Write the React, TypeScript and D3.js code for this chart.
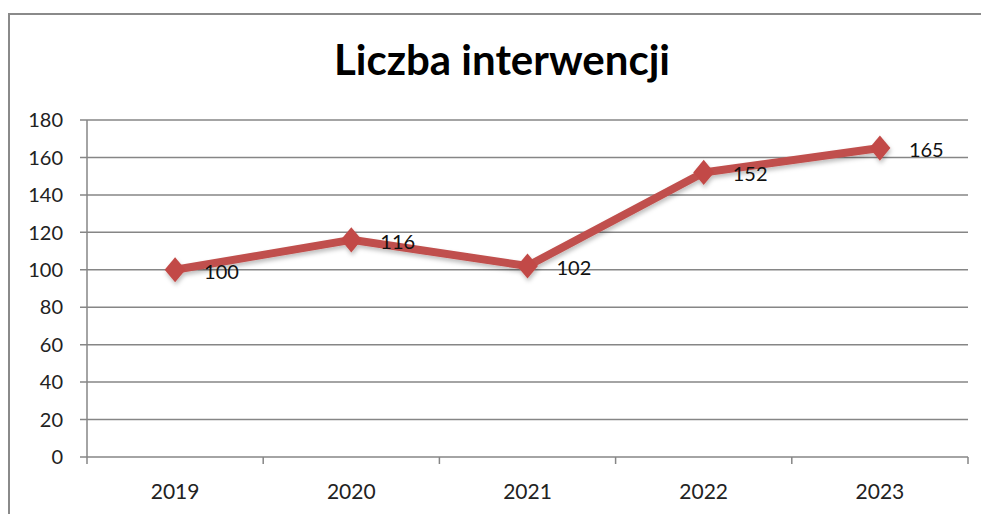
import React from 'react';
import * as d3 from 'd3';

const years = ['2019', '2020', '2021', '2022', '2023'];
const values = [100, 116, 102, 152, 165];
const yTicks = [0, 20, 40, 60, 80, 100, 120, 140, 160, 180];
const title = 'Liczba interwencji';

const W = 981, H = 514;
const margin = {top: 120, right: 13, bottom: 57, left: 87};
const font = 'Lato, "Open Sans", sans-serif';

// slightly tall diamond like the excel marker
const tallDiamond = {
    draw(ctx: any, size: number) {
        const r = Math.sqrt(size) / 2;
        ctx.moveTo(0, -r * 1.2);
        ctx.lineTo(r, 0);
        ctx.lineTo(0, r * 1.2);
        ctx.lineTo(-r, 0);
        ctx.closePath();
    }
};

const App = () => {
    const plotW = W - margin.left - margin.right;
    const plotH = H - margin.top - margin.bottom;

    const x = d3.scaleBand().domain(years).range([0, plotW]);
    const y = d3.scaleLinear().domain([0, 180]).range([plotH, 0]);
    const cx = (d: string) => (x(d) as number) + x.bandwidth() / 2;

    const line = d3.line<number>()
        .x((d, i) => cx(years[i]))
        .y(d => y(d));

    const diamond = d3.symbol().type(tallDiamond as any).size(440)();

    return (
        <svg width={W} height={H} style={{position: 'absolute', left: 0, top: 0, background: '#fff'}}>
            <defs>
                <filter id="shadow" x="-10%" y="-10%" width="120%" height="140%">
                    <feDropShadow dx="1" dy="3" stdDeviation="2" floodColor="#000" floodOpacity="0.25"/>
                </filter>
            </defs>
            <rect x={9} y={14} width={1000} height={600} fill="none" stroke="#8a8a8a" strokeWidth={2}/>
            <text x={502} y={75} textAnchor="middle" fontFamily={font} fontWeight="bold" fontSize={42} fill="#000">
                {title}
            </text>
            <g transform={`translate(${margin.left},${margin.top})`}>
                {yTicks.map(t => (
                    <g key={t}>
                        <line x1={-7} x2={plotW} y1={y(t)} y2={y(t)} stroke="#868686" strokeWidth={1.5}/>
                        <text x={-24} y={y(t)} dy="0.36em" textAnchor="end" fontFamily={font} fontSize={20} fill="#222">
                            {t}
                        </text>
                    </g>
                ))}
                <line x1={0} x2={0} y1={0} y2={plotH} stroke="#868686" strokeWidth={1.5}/>
                {d3.range(years.length + 1).map(i => (
                    <line key={i} x1={i * x.step()} x2={i * x.step()} y1={plotH} y2={plotH + 7}
                          stroke="#868686" strokeWidth={1.5}/>
                ))}
                {years.map(yr => (
                    <text key={yr} x={cx(yr)} y={plotH + 42} textAnchor="middle" fontFamily={font} fontSize={21} fill="#222">
                        {yr}
                    </text>
                ))}
                <g filter="url(#shadow)">
                    <path d={line(values) as string} fill="none" stroke="#c0504d" strokeWidth={8} strokeLinejoin="round"/>
                    {values.map((v, i) => (
                        <path key={i} d={diamond as string} transform={`translate(${cx(years[i])},${y(v)})`} fill="#c24a47"/>
                    ))}
                </g>
                {values.map((v, i) => (
                    <text key={i} x={cx(years[i]) + 29} y={y(v) + 9} fontFamily={font} fontSize={20} fill="#111">
                        {v}
                    </text>
                ))}
            </g>
        </svg>
    );
};

export default App;
